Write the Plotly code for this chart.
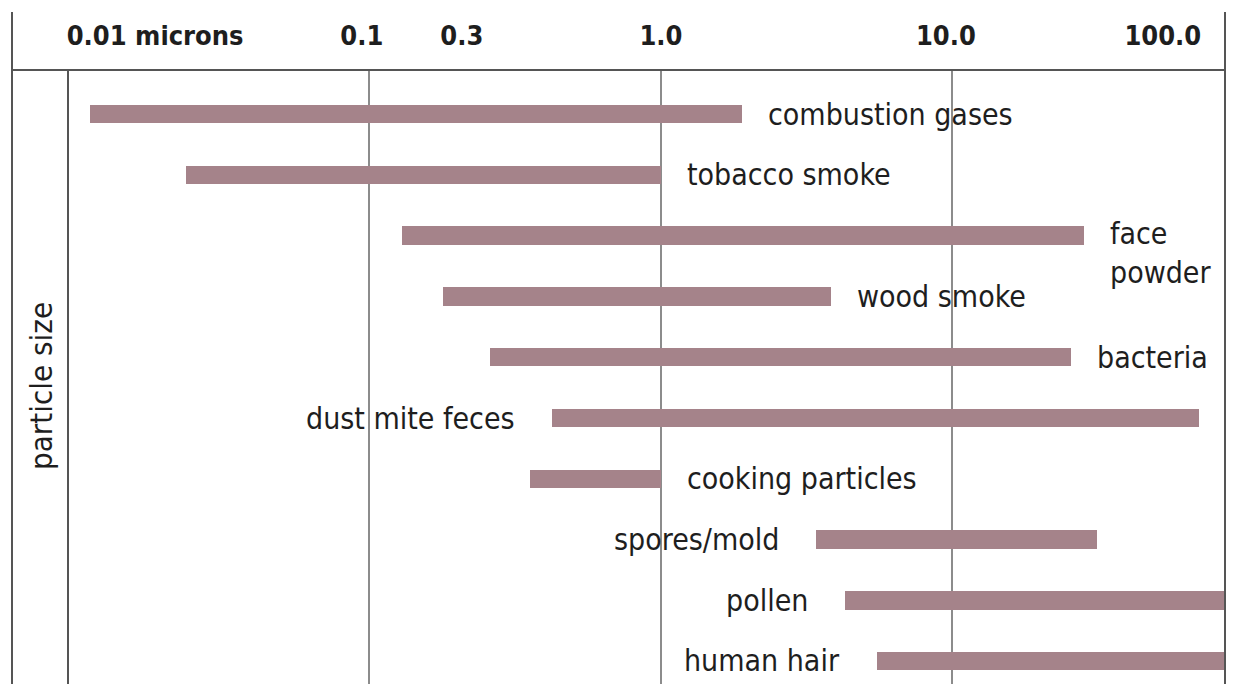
import math
import plotly.graph_objects as go

# ---- data ----
categories = ["combustion gases", "tobacco smoke", "face powder", "wood smoke", "bacteria",
              "dust mite feces", "cooking particles", "spores/mold", "pollen", "human hair"]
display_text = ["combustion gases", "tobacco smoke", "face<br>powder", "wood smoke", "bacteria",
                "dust mite feces", "cooking particles", "spores/mold", "pollen", "human hair"]
size_min = [0.011, 0.0235, 0.129, 0.179, 0.259, 0.423, 0.355, 3.4, 4.28, 5.51]      # microns
size_max = [1.9, 1.0, 28.3, 3.83, 25.5, 70.0, 1.0, 31.3, 100.0, 100.0]              # microns
label_side = ["right", "right", "right", "right", "right", "left", "right", "left", "left", "left"]

tick_labels = ["0.01 microns", "0.1", "0.3", "1.0", "10.0", "100.0"]
tick_label_pos = [0.0184, 0.0942, 0.2076, 1.0, 9.5, 52.7]   # where the labels sit on the scale
grid_values = [0.1, 1.0, 10.0]

FONT = "DejaVu Sans Condensed, Liberation Sans Narrow, Roboto, sans-serif"
BAR_COLOR = "#a5838a"
TEXT_COLOR = "#1e1e1e"
LINE_COLOR = "#555555"

rows = list(range(len(categories)))

fig = go.Figure()
fig.add_trace(go.Bar(
    orientation="h",
    y=rows,
    base=size_min,
    x=[mx - mn for mn, mx in zip(size_min, size_max)],
    width=0.3,
    marker=dict(color=BAR_COLOR, line=dict(width=0)),
    hovertext=categories,
    showlegend=False,
))

for i, (txt, mn, mx, side) in enumerate(zip(display_text, size_min, size_max, label_side)):
    if side == "right":
        fig.add_annotation(x=math.log10(mx), y=i, text=txt, xanchor="left", xshift=24,
                           yshift=(-17 if "<br>" in txt else 0),
                           showarrow=False, align="left",
                           font=dict(family=FONT, size=30, color=TEXT_COLOR))
    else:
        fig.add_annotation(x=math.log10(mn), y=i, text=txt, xanchor="right", xshift=-35,
                           yshift=(1 if i == len(categories) - 1 else 0),
                           showarrow=False, align="right",
                           font=dict(family=FONT, size=30, color=TEXT_COLOR))

# y-axis title
fig.add_annotation(xref="paper", yref="paper", x=0, y=0.5, xanchor="right", yanchor="middle",
                   xshift=-7, yshift=-9, text="particle size", textangle=-90, showarrow=False,
                   font=dict(family=FONT, size=31, color=TEXT_COLOR))

# frame lines (page has an 8px body margin, so figure coords are offset by 8)
W, H, L, T = 1226, 676, 60, 62
pw, ph = W - L, H - T
def px(xp):
    return (xp - 8 - L) / pw
def py(yp):
    return 1 - (yp - 8 - T) / ph
frame = dict(color=LINE_COLOR, width=2)
fig.add_shape(type="line", xref="paper", yref="paper", x0=px(12), x1=px(12), y0=py(12), y1=0, line=frame)
fig.add_shape(type="line", xref="paper", yref="paper", x0=px(1225), x1=px(1225), y0=py(12), y1=0, line=frame)
fig.add_shape(type="line", xref="paper", yref="paper", x0=px(12), x1=px(1225), y0=1, y1=1, line=frame)
fig.add_shape(type="line", xref="paper", yref="paper", x0=0, x1=0, y0=1, y1=0, line=frame)

fig.update_xaxes(
    type="log", side="top", range=[-2.034, 1.966],
    tickvals=tick_label_pos, ticktext=tick_labels, ticks="", ticklabelstandoff=19,
    tickfont=dict(family=FONT, size=27, color=TEXT_COLOR, weight="bold"),
    showgrid=False, zeroline=False, showline=False,
    minor=dict(tickvals=grid_values, showgrid=True, gridcolor="#8c8c8c", gridwidth=1.5, ticks=""),
    fixedrange=True,
)
fig.update_yaxes(range=[9.375, -0.724], showticklabels=False, showgrid=False, zeroline=False,
                 showline=False, ticks="", fixedrange=True)

fig.update_layout(
    width=W, height=H, autosize=False,
    margin=dict(l=L, r=0, t=T, b=0, pad=0),
    plot_bgcolor="white", paper_bgcolor="white",
    bargap=0, barmode="overlay",
)

fig.write_html("out.html")
